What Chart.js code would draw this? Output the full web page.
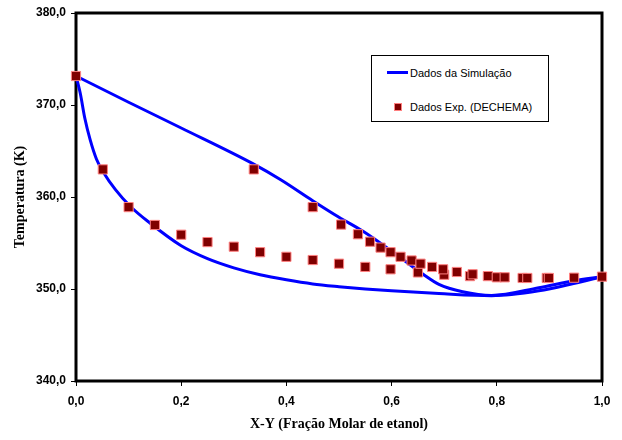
<!DOCTYPE html>
<html>
<head>
<meta charset="utf-8">
<script src="https://cdn.jsdelivr.net/npm/chart.js@4.4.1/dist/chart.umd.min.js"></script>
<style>
  body { margin: 0; background: #fff; }
  #wrap { position: relative; width: 622px; height: 440px; }
  #legend {
    position: absolute; left: 371px; top: 55px; width: 176px; height: 65px;
    border: 1px solid #000; background: #fff;
    font-family: Arial, "Liberation Sans", sans-serif; font-size: 11px; color: #000;
  }
  .row { position: absolute; left: 0; height: 14px; line-height: 14px; }
  .txt { position: absolute; left: 38px; white-space: nowrap; }
</style>
</head>
<body>
<div id="wrap">
  <canvas id="vleChart" width="622" height="440"></canvas>
  <div id="legend">
    <div class="row" style="top:10px">
      <div style="position:absolute;left:15px;top:5px;width:21px;height:3px;background:#0000FF"></div>
      <span class="txt">Dados da Simulação</span>
    </div>
    <div class="row" style="top:44px">
      <div style="position:absolute;left:22px;top:3px;width:6px;height:6px;background:#800000;border:1px solid #FF8080"></div>
      <span class="txt">Dados Exp. (DECHEMA)</span>
    </div>
  </div>
</div>
<script>
// simulated bubble curve (liquid)
var bubbleX = [0, 0.008, 0.017, 0.027, 0.039, 0.052, 0.075, 0.103, 0.14, 0.2, 0.25, 0.3, 0.35, 0.4, 0.45, 0.5, 0.55, 0.6, 0.69, 0.79, 0.88, 0.946, 1.0];
var bubbleT = [373.15, 371.3, 368.5, 366.2, 364.1, 362.7, 360.8, 359.0, 357.2, 354.7, 353.3, 352.3, 351.55, 351.0, 350.55, 350.25, 350.0, 349.8, 349.5, 349.27, 349.8, 350.6, 351.34];
// simulated dew curve (vapour)
var dewX = [0, 0.1, 0.2, 0.337, 0.39, 0.45, 0.5, 0.545, 0.61, 0.66, 0.69, 0.735, 0.79, 0.88, 0.946, 1.0];
var dewT = [373.15, 370.3, 367.5, 363.6, 361.85, 359.6, 357.8, 356.3, 353.7, 351.6, 350.5, 349.7, 349.3, 350.14, 350.9, 351.34];
// experimental points (DECHEMA)
var expLiqX = [0.0, 0.051, 0.1, 0.15, 0.2, 0.25, 0.3, 0.35, 0.4, 0.45, 0.5, 0.55, 0.598, 0.65, 0.70, 0.749];
var expLiqT = [373.15, 363.0, 358.9, 356.96, 355.9, 355.1, 354.6, 354.0, 353.5, 353.15, 352.75, 352.4, 352.14, 351.8, 351.55, 351.4];
var expVapX = [0.338, 0.45, 0.504, 0.536, 0.559, 0.579, 0.598, 0.617, 0.638, 0.655, 0.677, 0.698, 0.724, 0.754, 0.783, 0.80, 0.815, 0.849, 0.858, 0.895, 0.899, 0.947, 1.0];
var expVapT = [363.0, 358.9, 357.0, 355.95, 355.14, 354.5, 354.0, 353.5, 353.1, 352.75, 352.4, 352.14, 351.85, 351.6, 351.4, 351.27, 351.27, 351.2, 351.2, 351.2, 351.2, 351.23, 351.34];
var xTicks = [0, 0.2, 0.4, 0.6, 0.8, 1.0];
var yTicks = [340, 350, 360, 370, 380];

function toPoints(xs, ys) {
    return xs.map(function(x, i) { return {x: x, y: ys[i]}; });
}

var simStyle = {
    showLine: true,
    borderColor: '#0000FF',
    borderWidth: 3,
    pointRadius: 0,
    cubicInterpolationMode: 'monotone',
    clip: false
};

var frame = {
    id: 'frame',
    beforeDatasetsDraw: function(chart) {
        var a = chart.chartArea, c = chart.ctx;
        c.save();
        c.strokeStyle = '#000';
        c.lineWidth = 3;
        c.strokeRect(a.left, a.top, a.right - a.left, a.bottom - a.top);
        c.restore();
    }
};

var fmt = function(v) { return v.toFixed(1).replace('.', ','); };
var tickFont = { family: 'Arial, "Liberation Sans", sans-serif', size: 12, weight: 'bold' };
var titleFont = { family: '"Times New Roman", "Liberation Serif", serif', size: 14, weight: 'bold' };

new Chart(document.getElementById('vleChart').getContext('2d'), {
    type: 'scatter',
    data: {
        datasets: [
            Object.assign({ label: 'Dados da Simulação', data: toPoints(bubbleX, bubbleT), order: 2 }, simStyle),
            Object.assign({ label: 'Dados da Simulação (vapor)', data: toPoints(dewX, dewT), order: 2 }, simStyle),
            {
                label: 'Dados Exp. (DECHEMA)',
                data: toPoints(expLiqX, expLiqT).concat(toPoints(expVapX, expVapT)),
                pointStyle: 'rect',
                pointRadius: 6.5,
                backgroundColor: '#800000',
                borderColor: '#FF8080',
                borderWidth: 1,
                clip: false,
                order: 1
            }
        ]
    },
    options: {
        responsive: false,
        animation: false,
        layout: { padding: { top: 13, right: 20, left: 0, bottom: 0 } },
        plugins: { legend: { display: false }, tooltip: { enabled: false } },
        scales: {
            x: {
                type: 'linear', min: 0, max: 1,
                afterBuildTicks: function(s) { s.ticks = xTicks.map(function(v) { return {value: v}; }); },
                afterFit: function(s) { s.height = 59; },
                border: { display: false },
                grid: { drawOnChartArea: false, drawTicks: true, tickLength: 5, color: '#000', lineWidth: 1 },
                ticks: { color: '#000', font: tickFont, padding: 8, maxRotation: 0, callback: fmt },
                title: { display: true, text: 'X-Y (Fração Molar de etanol)', color: '#000', font: titleFont, padding: { bottom: 7 } }
            },
            y: {
                min: 340, max: 380,
                afterBuildTicks: function(s) { s.ticks = yTicks.map(function(v) { return {value: v}; }); },
                afterFit: function(s) { s.width = 76; },
                border: { display: false },
                grid: { drawOnChartArea: false, drawTicks: true, tickLength: 5, color: '#000', lineWidth: 1 },
                ticks: { color: '#000', font: tickFont, padding: 5, callback: fmt },
                title: { display: true, text: 'Temperatura (K)', color: '#000', font: titleFont, padding: { top: 12 } }
            }
        }
    },
    plugins: [frame]
});
</script>
</body>
</html>
